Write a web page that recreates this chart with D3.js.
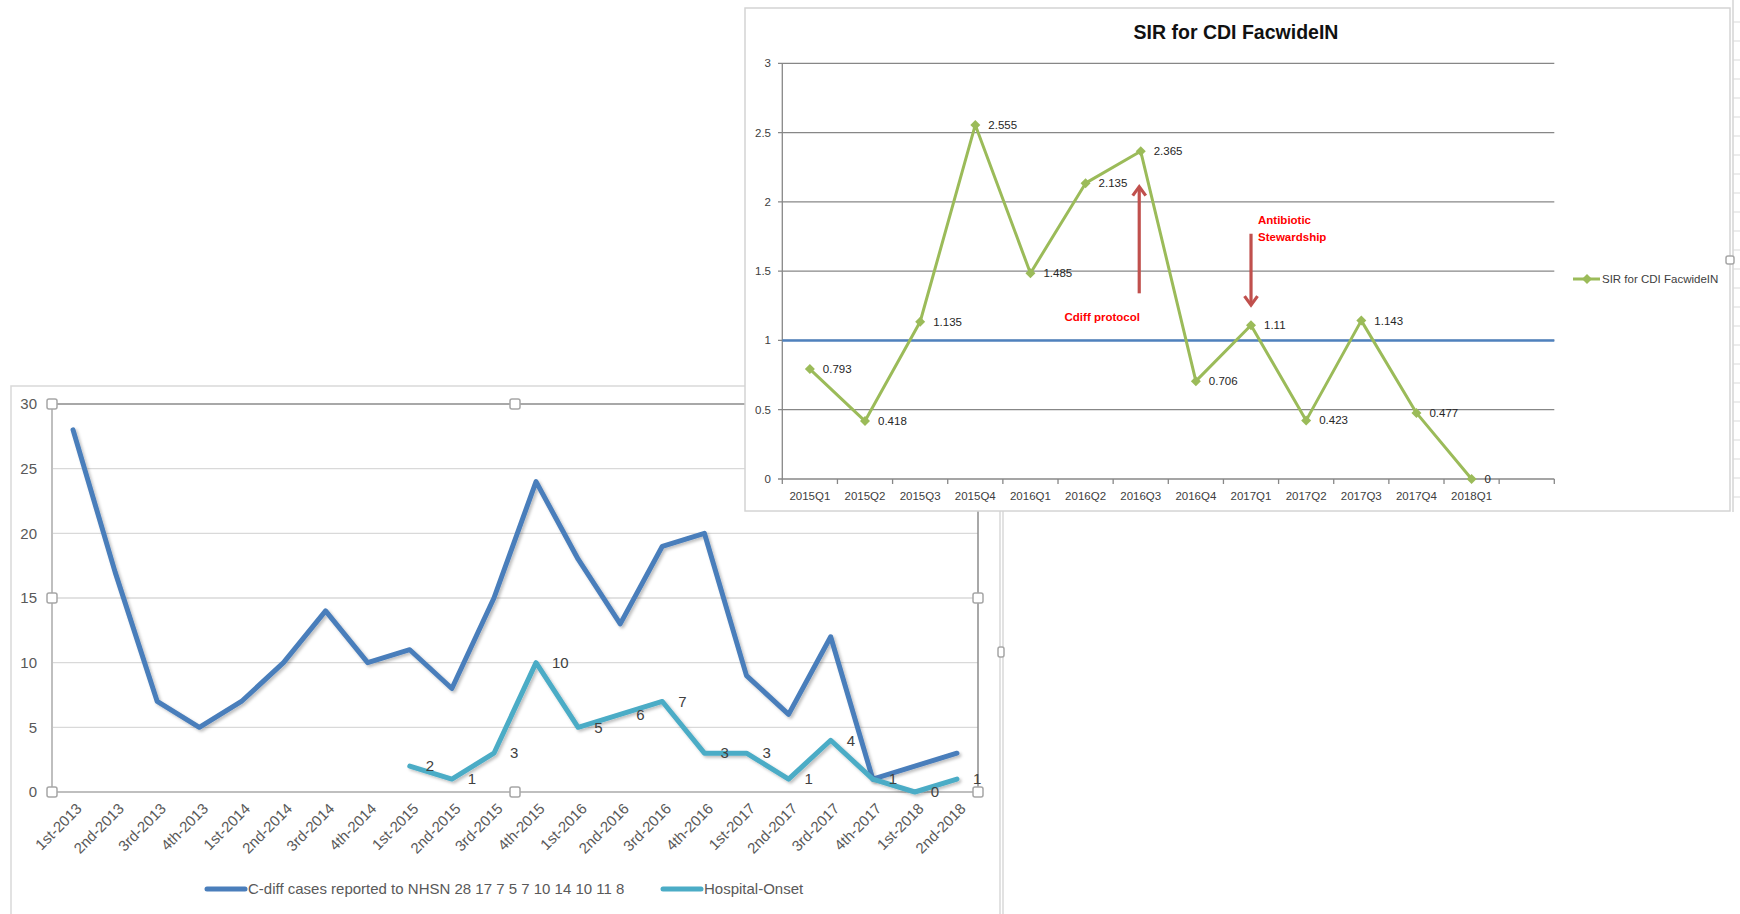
<!DOCTYPE html>
<html>
<head>
<meta charset="utf-8">
<script src="https://cdn.jsdelivr.net/npm/d3@7"></script>
<style>
  body { margin: 0; background: #fff; }
  text { font-family: "Liberation Sans", Arial, sans-serif; }
</style>
</head>
<body>
<script>
// quarterly C-diff counts (bottom-left chart)
const quarters = ['1st-2013', '2nd-2013', '3rd-2013', '4th-2013', '1st-2014', '2nd-2014', '3rd-2014', '4th-2014',
    '1st-2015', '2nd-2015', '3rd-2015', '4th-2015', '1st-2016', '2nd-2016', '3rd-2016', '4th-2016',
    '1st-2017', '2nd-2017', '3rd-2017', '4th-2017', '1st-2018', '2nd-2018'];
const cdiffCases = [28, 17, 7, 5, 7, 10, 14, 10, 11, 8, 15, 24, 18, 13, 19, 20, 9, 6, 12, 1, 2, 3];
const hospitalOnset = [null, null, null, null, null, null, null, null, 2, 1, 3, 10, 5, 6, 7, 3, 3, 1, 4, 1, 0, 1];
const casesTicks = [0, 5, 10, 15, 20, 25, 30];
const casesLegend = ['C-diff cases reported to NHSN 28 17 7 5 7 10 14 10 11 8', 'Hospital-Onset'];

// SIR chart (top-right)
const sirQuarters = ['2015Q1', '2015Q2', '2015Q3', '2015Q4', '2016Q1', '2016Q2', '2016Q3', '2016Q4',
    '2017Q1', '2017Q2', '2017Q3', '2017Q4', '2018Q1'];
const sirValues = [0.793, 0.418, 1.135, 2.555, 1.485, 2.135, 2.365, 0.706, 1.11, 0.423, 1.143, 0.477, 0];
const sirTicks = [0, 0.5, 1, 1.5, 2, 2.5, 3];
const sirBaseline = 1;
const sirTitle = 'SIR for CDI FacwideIN';
const notes = [
    { lines: ['Cdiff protocol'], at: '2016Q3', from: 1.34, to: 2.11, textAt: 1.17 },
    { lines: ['Antibiotic', 'Stewardship'], at: '2017Q1', from: 1.77, to: 1.255, textAt: 1.87 }
];

const W = 1740, H = 914;
const svg = d3.select('body').append('svg').attr('width', W).attr('height', H);
svg.append('rect').attr('width', W).attr('height', H).attr('fill', '#fff');

const defs = svg.append('defs');
defs.append('filter').attr('id', 'shadow').attr('x', '-10%').attr('y', '-10%').attr('width', '130%').attr('height', '130%')
    .append('feDropShadow').attr('dx', 2).attr('dy', 2).attr('stdDeviation', 1.5)
    .attr('flood-color', '#000').attr('flood-opacity', 0.25);

const handle = (g, x, y) => g.append('rect')
    .attr('x', x - 5).attr('y', y - 5).attr('width', 10).attr('height', 10).attr('rx', 2)
    .attr('fill', '#fff').attr('stroke', '#a6a6a6').attr('stroke-width', 1.5);

// ---------- left chart ----------
const left = svg.append('g');
left.append('rect').attr('x', 11).attr('y', 386).attr('width', 989).attr('height', 560)
    .attr('fill', '#fff').attr('stroke', '#d9d9d9').attr('stroke-width', 1.5);
left.append('line').attr('x1', 1003).attr('x2', 1003).attr('y1', 386).attr('y2', H)
    .attr('stroke', '#d9d9d9').attr('stroke-width', 1.5);

const x1 = d3.scaleBand().domain(quarters).range([52, 978]);
const y1 = d3.scaleLinear().domain([0, 30]).range([792, 404]);
const cx1 = q => x1(q) + x1.bandwidth() / 2;

left.selectAll('.grid').data(casesTicks.filter(t => t > 0 && t < 30)).join('line')
    .attr('x1', 52).attr('x2', 978).attr('y1', d => y1(d)).attr('y2', d => y1(d))
    .attr('stroke', '#d9d9d9').attr('stroke-width', 1.3);
// selected plot-area border
left.append('path').attr('d', `M52,${y1(30)}H978V${y1(0)}`).attr('fill', 'none')
    .attr('stroke', '#8c8c8c').attr('stroke-width', 1.5);
left.append('line').attr('x1', 52).attr('x2', 52).attr('y1', y1(30)).attr('y2', y1(0))
    .attr('stroke', '#bfbfbf').attr('stroke-width', 2);
left.append('line').attr('x1', 52).attr('x2', 978).attr('y1', y1(0)).attr('y2', y1(0))
    .attr('stroke', '#bfbfbf').attr('stroke-width', 2);

left.selectAll('.ytick').data(casesTicks).join('text')
    .attr('x', 37).attr('y', d => y1(d)).attr('dy', '0.35em').attr('text-anchor', 'end')
    .attr('font-size', 15).attr('fill', '#595959').text(d => d);

left.selectAll('.xtick').data(quarters).join('text')
    .attr('transform', d => `translate(${cx1(d) + 6},${y1(0) + 14}) rotate(-45)`)
    .attr('dy', '0.35em').attr('text-anchor', 'end')
    .attr('font-size', 15).attr('fill', '#595959').text(d => d);

const line1 = d3.line().defined(d => d.v != null).x(d => cx1(d.q)).y(d => y1(d.v));
const caseRows = quarters.map((q, i) => ({ q, v: cdiffCases[i] }));
const onsetRows = quarters.map((q, i) => ({ q, v: hospitalOnset[i] }));

left.append('path').datum(caseRows).attr('d', line1).attr('fill', 'none')
    .attr('stroke', '#4a7ebb').attr('stroke-width', 5).attr('stroke-linejoin', 'round')
    .attr('stroke-linecap', 'round').attr('filter', 'url(#shadow)');
left.append('path').datum(onsetRows).attr('d', line1).attr('fill', 'none')
    .attr('stroke', '#4bacc6').attr('stroke-width', 5).attr('stroke-linejoin', 'round')
    .attr('stroke-linecap', 'round').attr('filter', 'url(#shadow)');

left.selectAll('.olabel').data(onsetRows.filter(d => d.v != null)).join('text')
    .attr('x', d => cx1(d.q) + 16).attr('y', d => y1(d.v)).attr('dy', '0.35em')
    .attr('font-size', 15).attr('fill', '#404040').text(d => d.v);

[[52, 404], [515, 404], [52, 598], [978, 598], [52, 792], [515, 792], [978, 792]]
    .forEach(([x, y]) => handle(left, x, y));
handle(left, 1001, 652).attr('width', 6).attr('x', 998);

// legend
const leg1 = left.append('g');
[[207, '#4a7ebb', 0], [663, '#4bacc6', 1]].forEach(([x, c, i]) => {
    leg1.append('line').attr('x1', x).attr('x2', x + 38).attr('y1', 889).attr('y2', 889)
        .attr('stroke', c).attr('stroke-width', 5).attr('stroke-linecap', 'round');
    leg1.append('text').attr('x', x + 41).attr('y', 889).attr('dy', '0.35em')
        .attr('font-size', 15).attr('fill', '#595959').text(casesLegend[i]);
});

// ---------- right chart ----------
const right = svg.append('g');
right.append('rect').attr('x', 745).attr('y', 8).attr('width', 985).attr('height', 503)
    .attr('fill', '#fff').attr('stroke', '#d4d4d4').attr('stroke-width', 1.5);
right.append('line').attr('x1', 1733).attr('x2', 1733).attr('y1', 0).attr('y2', 512)
    .attr('stroke', '#d4d4d4').attr('stroke-width', 1.5);
right.selectAll('.cell').data(d3.range(22, 510, 19)).join('line')
    .attr('x1', 1733).attr('x2', W).attr('y1', d => d).attr('y2', d => d)
    .attr('stroke', '#d9d9d9');
handle(right, 1730, 260).attr('width', 8).attr('height', 8).attr('x', 1726).attr('y', 256);

const x2 = d3.scaleBand().domain([...sirQuarters, '']).range([782.3, 1554.3]);
const y2 = d3.scaleLinear().domain([0, 3]).range([479, 63.3]);
const cx2 = q => x2(q) + x2.bandwidth() / 2;

right.selectAll('.grid').data(sirTicks).join('line')
    .attr('x1', 778).attr('x2', 1554.3).attr('y1', d => y2(d)).attr('y2', d => y2(d))
    .attr('stroke', '#878787').attr('stroke-width', 1.3);
right.append('line').attr('x1', 782.3).attr('x2', 782.3).attr('y1', y2(3)).attr('y2', y2(0) + 5)
    .attr('stroke', '#878787').attr('stroke-width', 1.3);
right.selectAll('.xt').data(x2.domain()).join('line')
    .attr('x1', (d, i) => 782.3 + (i + 1) * x2.step()).attr('x2', (d, i) => 782.3 + (i + 1) * x2.step())
    .attr('y1', y2(0)).attr('y2', y2(0) + 5).attr('stroke', '#878787').attr('stroke-width', 1.3);

right.selectAll('.ytick').data(sirTicks).join('text')
    .attr('x', 771).attr('y', d => y2(d)).attr('dy', '0.35em').attr('text-anchor', 'end')
    .attr('font-size', 11.5).attr('fill', '#404040').text(d => d);
right.selectAll('.xlab').data(sirQuarters).join('text')
    .attr('x', d => cx2(d)).attr('y', y2(0) + 17).attr('dy', '0.35em').attr('text-anchor', 'middle')
    .attr('font-size', 11.5).attr('fill', '#404040').text(d => d);

right.append('text').attr('x', 1236).attr('y', 32).attr('dy', '0.35em').attr('text-anchor', 'middle')
    .attr('font-size', 19.5).attr('font-weight', 'bold').attr('fill', '#111').text(sirTitle);

right.append('line').attr('x1', 782.3).attr('x2', 1554.3).attr('y1', y2(sirBaseline)).attr('y2', y2(sirBaseline))
    .attr('stroke', '#4f81bd').attr('stroke-width', 2.5);

const sirRows = sirQuarters.map((q, i) => ({ q, v: sirValues[i] }));
right.append('path').datum(sirRows)
    .attr('d', d3.line().x(d => cx2(d.q)).y(d => y2(d.v)))
    .attr('fill', 'none').attr('stroke', '#9bbb59').attr('stroke-width', 3).attr('stroke-linejoin', 'round');
const diamond = d3.symbol(d3.symbolSquare, 50);
right.selectAll('.mark').data(sirRows).join('path')
    .attr('d', diamond).attr('transform', d => `translate(${cx2(d.q)},${y2(d.v)}) rotate(45)`)
    .attr('fill', '#9bbb59');
right.selectAll('.vlab').data(sirRows).join('text')
    .attr('x', d => cx2(d.q) + 13).attr('y', d => y2(d.v)).attr('dy', '0.35em')
    .attr('font-size', 11.5).attr('fill', '#262626').text(d => d.v);

// annotations
notes.forEach((n, k) => {
    const ax = cx2(n.at) - (k === 0 ? 1.5 : 0);
    const up = n.to > n.from;
    const tipY = y2(n.to), dir = up ? 1 : -1;
    right.append('line').attr('x1', ax).attr('x2', ax).attr('y1', y2(n.from)).attr('y2', tipY + dir * 2)
        .attr('stroke', '#c0504d').attr('stroke-width', 3.2);
    right.append('path')
        .attr('d', `M${ax - 6.5},${tipY + dir * 9}L${ax},${tipY}L${ax + 6.5},${tipY + dir * 9}`)
        .attr('fill', 'none').attr('stroke', '#c0504d').attr('stroke-width', 3.2).attr('stroke-linejoin', 'miter');
    n.lines.forEach((t, j) => {
        right.append('text')
            .attr('x', k === 0 ? ax - 37 : ax + 7)
            .attr('y', y2(n.textAt) + j * 17.5).attr('dy', '0.35em')
            .attr('text-anchor', k === 0 ? 'middle' : 'start')
            .attr('font-size', 11.5).attr('font-weight', 'bold').attr('fill', '#ff0000').text(t);
    });
});

// legend
right.append('line').attr('x1', 1573).attr('x2', 1600).attr('y1', 279).attr('y2', 279)
    .attr('stroke', '#9bbb59').attr('stroke-width', 3);
right.append('path').attr('d', diamond).attr('transform', 'translate(1587,279) rotate(45)').attr('fill', '#9bbb59');
right.append('text').attr('x', 1602).attr('y', 279).attr('dy', '0.35em')
    .attr('font-size', 11.5).attr('fill', '#404040').text(sirTitle);
</script>
</body>
</html>
